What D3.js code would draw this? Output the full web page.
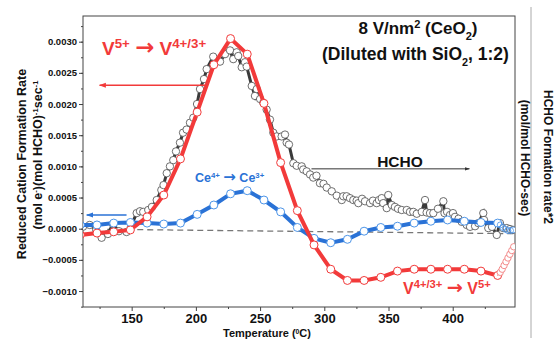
<!DOCTYPE html>
<html>
<head>
<meta charset="utf-8">
<script src="https://cdn.jsdelivr.net/npm/d3@7"></script>
<style>
  body { margin: 0; background: #fff; }
  svg { font-family: Arial, "Liberation Sans", sans-serif; }
  .axis text { font-weight: bold; fill: #111; }
  .axis path, .axis line { stroke: #444; }
</style>
</head>
<body>
<svg width="557" height="342"></svg>
<script>
// temperatures where the V and Ce points sit (deg C)
const gridTemps = [110, 123, 136, 149, 162, 175, 188, 201, 214, 227, 240, 253, 266,
                   279, 292, 305, 318, 331, 344, 357, 370, 383, 396, 409, 422, 435];

// V5+ -> V4+/3+ (red)
const vanadium = [-0.0001, -0.00007, -0.00005, -0.00002, 0.00019, 0.00054, 0.00112, 0.00187,
                  0.00263, 0.00305, 0.0028, 0.00201, 0.00106, 0.00029, -0.00026, -0.00065,
                  -0.00083, -0.00083, -0.00078, -0.00068, -0.00065, -0.00065, -0.00065,
                  -0.00065, -0.00068, -0.00075];
const vTailTemps = [437, 438.5, 440, 441.5, 443, 444.5, 446, 447.5];
const vTail = [-0.0007, -0.00065, -0.00059, -0.00053, -0.00047, -0.00041, -0.00035, -0.00029];

// Ce4+ -> Ce3+ (blue)
const cerium = [0.00006, 0.00006, 0.00009, 0.0001, 0.00009, 0.000075, 0.00009, 0.00023,
                0.00038, 0.00056, 0.00061, 0.00046, 0.00027, 0.00002, -0.000155, -0.000225,
                -0.00017, -0.00004, 0.00002, 0.00004, 0.00009, 0.00012, 0.00014, 0.00012,
                0.0001, 0.00009];
const ceTailTemps = [437, 439, 441, 443, 445, 447];
const ceTail = [0.00006, 0.00002, -0.00001, -0.00003, -0.00003, -0.00002];

// HCHO formation rate *2 (black open circles)
const hchoTemps = [112.1, 117.3, 122.4, 126.6, 131.5, 135.4, 140.1, 146, 149.5, 153.9, 156.5, 159,
  162.9, 165.8, 169.5, 173.1, 174.8, 177.3, 179.8, 182.4, 184.5, 187.6, 190, 192.8, 195.4, 198,
  200.9, 203.2, 206.3, 208.4, 213.5, 218.8, 222.7, 226.6, 229.1, 231.8, 233, 235.7, 238.2, 239.6,
  243.5, 246, 247.4, 250, 252.5, 255.1, 257.7, 260.3, 262.9, 266.8, 269.4, 270.7, 272.5, 275.9,
  278.5, 282.4, 283.6, 286.3, 288.9, 291.4, 293.9, 296.6, 299.4, 301.9, 305.8, 309.7, 313.6,
  314.8, 317.4, 320, 322.6, 325.2, 326.5, 329.4, 331.7, 335.6, 337.9, 340.8, 342.6, 344.7, 345.9,
  348.6, 349.8, 352.5, 355, 357.4, 360.3, 364.2, 366.7, 369.3, 372, 375.9, 378.4, 379.7, 382.3,
  384.9, 388.5, 392.7, 393.6, 395.6, 397.9, 400.2, 401.8, 404.5, 407, 410.9, 413.5, 417.4, 419.9,
  423.8, 424.4, 427.7, 430.6, 434.3, 436.8, 439.2, 442.1, 444.6, 447];
const hcho = [0.000032, 0.00006, -0.00002, -0.000145, -0.000085, 0.000076, -0.00004, -0.000053,
  0.00004, 0.00025, 0.00028, 0.00027, 0.0003, 0.00035, 0.00046, 0.00062, 0.0007, 0.00089, 0.001,
  0.0011, 0.00124, 0.00138, 0.00154, 0.00159, 0.0017, 0.00178, 0.002, 0.00224, 0.0024, 0.00256,
  0.00276, 0.00268, 0.0028, 0.00286, 0.00272, 0.00283, 0.00277, 0.00259, 0.00267, 0.0026, 0.00229,
  0.00213, 0.00224, 0.00208, 0.00202, 0.00191, 0.00175, 0.00154, 0.00148, 0.00148, 0.00151,
  0.00138, 0.00135, 0.00105, 0.00101, 0.001, 0.00095, 0.00092, 0.00087, 0.00082, 0.00085, 0.00073,
  0.00072, 0.00066, 0.0006, 0.00053, 0.00046, 0.00052, 0.00052, 0.00049, 0.00046, 0.00045, 0.00041,
  0.00048, 0.00044, 0.00041, 0.00045, 0.00041, 0.00046, 0.00049, 0.00041, 0.00033, 0.00054,
  0.00038, 0.00035, 0.00032, 0.0003, 0.0003, 0.00027, 0.00027, 0.00024, 0.00027, 0.00046, 0.00026,
  0.00025, 0.00025, 0.00032, 0.00044, 0.00025, 0.00027, 0.00022, 0.00025, 0.00019, 0.00016,
  0.00011, 0.00006, 0.00003, 0.00004, 0.00009, 0.00025, 0.00014, 0.00001, 0.00003, -0.0001,
  0.00009, 0.00001, 0.00001, -0.000005, -0.00002];

// dashed baseline
const baseTemps = [131, 448];
const baseVals = [-0.00001, -0.00008];

const xTicks = [150, 200, 250, 300, 350, 400];
const yTicks = [-0.001, -0.0005, 0, 0.0005, 0.001, 0.0015, 0.002, 0.0025, 0.003];

const red = "#f23a3a", blue = "#2a72d6", blueLight = "#4d95e8", dark = "#333";

const svg = d3.select("svg"),
    margin = { top: 16, right: 42, bottom: 35, left: 83 },
    width = +svg.attr("width") - margin.left - margin.right,
    height = +svg.attr("height") - margin.top - margin.bottom,
    g = svg.append("g").attr("transform", `translate(${margin.left},${margin.top})`);

const x = d3.scaleLinear().domain([112.1, 448.5]).range([0, width]);
const y = d3.scaleLinear().domain([-0.001256, 0.003412]).range([height, 0]);

const defs = svg.append("defs");
defs.append("clipPath").attr("id", "clip")
    .append("rect").attr("width", width).attr("height", height);
[["arRed", red], ["arBlue", blue], ["arDark", dark]].forEach(([id, c]) => {
  defs.append("marker").attr("id", id)
      .attr("viewBox", "0 0 10 10").attr("refX", 9).attr("refY", 5)
      .attr("markerWidth", 5).attr("markerHeight", 5).attr("orient", "auto-start-reverse")
      .append("path").attr("d", "M0,1.5L10,5L0,8.5Z").attr("fill", c);
});

// axes
const fmt = d => d3.format(".4f")(d).replace("-", "\u2212");
g.append("g").attr("class", "axis")
    .call(d3.axisLeft(y).tickValues(d3.range(-0.00125, 0.0034, 0.00025)).tickSize(2).tickFormat(""))
    .call(a => a.select(".domain").remove());
g.append("g").attr("class", "axis")
    .call(d3.axisLeft(y).tickValues(yTicks).tickSize(4).tickPadding(2).tickFormat(fmt))
    .call(a => a.select(".domain").remove())
    .selectAll("text").style("font-size", "9.5px");
g.append("g").attr("class", "axis").attr("transform", `translate(0,${height})`)
    .call(d3.axisBottom(x).tickValues([125, 175, 225, 275, 325, 375, 425]).tickSize(2).tickFormat(""))
    .call(a => a.select(".domain").remove());
g.append("g").attr("class", "axis").attr("transform", `translate(0,${height})`)
    .call(d3.axisBottom(x).tickValues(xTicks).tickSize(4).tickPadding(3))
    .call(a => a.select(".domain").remove())
    .selectAll("text").style("font-size", "13px");
g.append("rect").attr("width", width).attr("height", height)
    .attr("fill", "none").attr("stroke", "#444").attr("stroke-width", 1);

const plot = g.append("g").attr("clip-path", "url(#clip)");

// baseline
plot.append("path")
    .datum(baseTemps.map((t, i) => [t, baseVals[i]]))
    .attr("d", d3.line().x(d => x(d[0])).y(d => y(d[1])))
    .attr("stroke", "#777").attr("stroke-width", 1.3).attr("stroke-dasharray", "6,4").attr("fill", "none");

// HCHO
const hData = hchoTemps.map((t, i) => [t, hcho[i]]);
const line = d3.line().x(d => x(d[0])).y(d => y(d[1]));
plot.append("path").datum(hData).attr("d", line)
    .attr("stroke", "#3a3a3a").attr("stroke-width", 3).attr("fill", "none");
plot.selectAll(".h").data(hData).join("circle")
    .attr("cx", d => x(d[0])).attr("cy", d => y(d[1])).attr("r", 3.7)
    .attr("fill", "#fff").attr("stroke", "#4a4a4a").attr("stroke-width", 0.8);

// Ce
const cData = gridTemps.map((t, i) => [t, cerium[i]]);
plot.append("path").datum(cData).attr("d", line)
    .attr("stroke", blue).attr("stroke-width", 4).attr("fill", "none");
plot.selectAll(".c").data(cData).join("circle")
    .attr("cx", d => x(d[0])).attr("cy", d => y(d[1])).attr("r", 4)
    .attr("fill", "#fff").attr("stroke", blueLight).attr("stroke-width", 1);
const ctData = ceTailTemps.map((t, i) => [t, ceTail[i]]);
plot.selectAll(".ct").data(ctData).join("circle")
    .attr("cx", d => x(d[0])).attr("cy", d => y(d[1])).attr("r", 3)
    .attr("fill", "none").attr("stroke", blueLight).attr("stroke-width", 0.8);

// V
const vData = gridTemps.map((t, i) => [t, vanadium[i]]);
plot.append("path").datum(vData).attr("d", line)
    .attr("stroke", red).attr("stroke-width", 4).attr("fill", "none");
plot.selectAll(".v").data(vData).join("circle")
    .attr("cx", d => x(d[0])).attr("cy", d => y(d[1])).attr("r", 4)
    .attr("fill", "#fff").attr("stroke", red).attr("stroke-width", 1);
const vtData = vTailTemps.map((t, i) => [t, vTail[i]]);
plot.append("path").datum([vData[vData.length - 1]].concat(vtData)).attr("d", line)
    .attr("stroke", red).attr("stroke-width", 1).attr("fill", "none");
plot.selectAll(".vt").data(vtData).join("circle")
    .attr("cx", d => x(d[0])).attr("cy", d => y(d[1])).attr("r", 3.2)
    .attr("fill", "#fff").attr("stroke", "#f07070").attr("stroke-width", 0.8);

// arrows pointing to the axes
const arrow = (t0, t1, v, c, m) => g.append("line")
    .attr("x1", x(t0)).attr("x2", x(t1)).attr("y1", y(v)).attr("y2", y(v))
    .attr("stroke", c).attr("stroke-width", 1.4).attr("marker-end", `url(#${m})`);
arrow(209, 125, 0.0023, red, "arRed");
arrow(146, 115, 0.00022, blue, "arBlue");
arrow(290, 413, 0.00096, dark, "arDark").attr("stroke-width", 1);

// annotations (pixel positions on the page)
const label = (px, py, parts, size, color, anchor, supScale) => {
  const k = supScale || 0.62;
  const t = svg.append("text").attr("x", px).attr("y", py)
      .attr("fill", color).attr("font-weight", "bold").attr("font-size", size)
      .attr("text-anchor", anchor || "start");
  parts.forEach(p => {
    const s = t.append("tspan").text(p[0]);
    if (p[1] === "sup") s.attr("baseline-shift", "super").attr("font-size", size * k);
    if (p[1] === "sub") s.attr("baseline-shift", "sub").attr("font-size", size * k);
    if (p[1] === "arr") s.attr("font-family", "DejaVu Sans").attr("font-size", size * 1.2);
  });
  return t;
};
label(102, 55, [["V"], ["5+", "sup"], [" "], ["\u2192", "arr"], [" V"], ["4+/3+", "sup"]], 19, red, "start", 0.7);
label(195, 182, [["Ce"], ["4+", "sup"], [" "], ["\u2192", "arr"], [" Ce"], ["3+", "sup"]], 12.5, blue);
label(400, 166.5, [["HCHO"]], 15.5, "#111", "middle");
label(403, 293.5, [["V"], ["4+/3+", "sup"], [" "], ["\u2192", "arr"], [" V"], ["5+", "sup"]], 16, red, "start", 0.7);
label(418, 33.5, [["8 V/nm"], ["2", "sup"], [" (CeO"], ["2", "sub"], [")"]], 17, "#111", "middle", 0.65);
label(415.5, 60, [["(Diluted with SiO"], ["2", "sub"], [", 1:2)"]], 17.5, "#111", "middle");

// axis titles
label(267, 337, [["Temperature ("], ["0", "sup"], ["C)"]], 11, "#111", "middle");
label(0, 0, [["Reduced Cation Formation Rate"]], 12.5, "#111", "middle")
    .attr("transform", "translate(26,164) rotate(-90)");
label(0, 0, [["(mol e"], ["-", "sup"], [")(mol HCHO)"], ["-1", "sup"], ["sec"], ["-1", "sup"]], 12.5, "#111", "middle")
    .attr("transform", "translate(42,155) rotate(-90)");

// right axis remnant
svg.append("line").attr("x1", 531).attr("x2", 531).attr("y1", 7).attr("y2", 338)
    .attr("stroke", "#aaa").attr("stroke-width", 1);
label(0, 0, [["HCHO Formation rate*2"]], 12, "#111", "middle")
    .attr("transform", "translate(544,157) rotate(90)");
label(0, 0, [["(mol/mol HCHO-sec)"]], 12, "#111", "middle")
    .attr("transform", "translate(521,158) rotate(90)");
</script>
</body>
</html>
